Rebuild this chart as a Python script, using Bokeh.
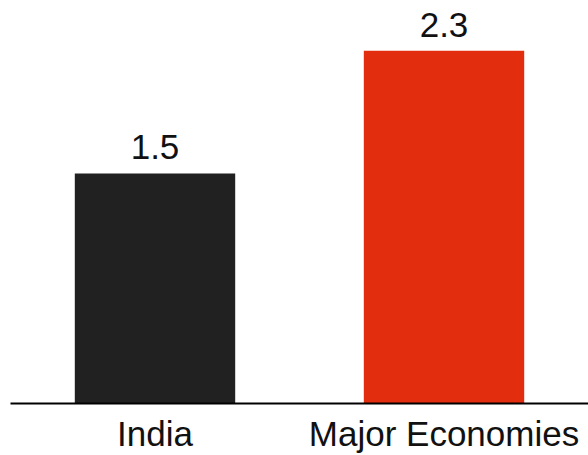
from bokeh.plotting import figure
from bokeh.models import ColumnDataSource, Range1d, FactorRange
from bokeh.core.properties import value
from bokeh.transform import dodge
from bokeh.embed import file_html
from bokeh.resources import INLINE

categories = ["India", "Major Economies"]
values = [1.5, 2.3]
labels = ["1.5", "2.3"]
colors = ["#212121", "#E32D0F"]

src = ColumnDataSource(dict(cat=categories, val=values, lab=labels, col=colors))

p = figure(width=588, height=455, output_backend="svg", toolbar_location=None,
           x_range=FactorRange(*categories, range_padding=0),
           y_range=Range1d(0, 2.627))
p.min_border_left = 10
p.min_border_right = 0
p.min_border_top = 0
p.min_border_bottom = 52
p.outline_line_color = None
p.background_fill_color = "white"
p.border_fill_color = "white"

p.vbar(x="cat", top="val", width=0.555, color="col", source=src, line_color=None)
p.text(x="cat", y=dodge("val", 0.17), text="lab", source=src, text_align="center",
       text_baseline="alphabetic", text_font=value("Liberation Sans"),
       text_font_size="35px", text_color="#111111")

p.yaxis.visible = False
p.xgrid.visible = False
p.ygrid.visible = False
p.xaxis.axis_line_color = "black"
p.xaxis.axis_line_width = 2
p.xaxis.major_tick_line_color = None
p.xaxis.minor_tick_line_color = None
p.xaxis.major_tick_out = 0
p.xaxis.major_tick_in = 0
p.xaxis.major_label_standoff = 10
p.xaxis.major_label_text_font = "Liberation Sans"
p.xaxis.major_label_text_font_size = "35px"
p.xaxis.major_label_text_color = "#111111"

open("out.html", "w").write(file_html(p, INLINE))
